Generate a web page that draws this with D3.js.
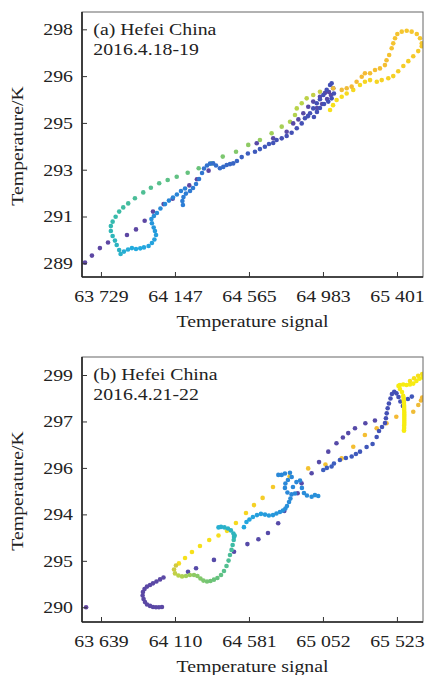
<!DOCTYPE html>
<html><head><meta charset="utf-8">
<script src="https://cdn.jsdelivr.net/npm/d3@7"></script>
<style>body{margin:0;background:#fff}svg{display:block}</style>
</head><body>
<script>
// ---------- tick values and labels ----------
const xTicksA = [63729, 64147, 64565, 64983, 65401];
const xLabelsA = ["63 729", "64 147", "64 565", "64 983", "65 401"];
const yTicksA = [289, 291, 293, 295, 297, 299];
const yLabelsA = ["289", "291", "293", "295", "296", "298"];
const xTicksB = [63639, 64110, 64581, 65052, 65523];
const xLabelsB = ["63 639", "64 110", "64 581", "65 052", "65 523"];
const yTicksB = [289, 291, 293, 295, 297, 299];
const yLabelsB = ["290", "295", "294", "296", "297", "299"];
const titlesA = ["(a) Hefei China", "2016.4.18-19"];
const titlesB = ["(b) Hefei China", "2016.4.21-22"];
const xTitle = "Temperature signal";
const yTitle = "Temperature/K";

// time-of-day colour stops (0 = start, 1 = end)
const colorStops = [0, 0.12, 0.25, 0.37, 0.5, 0.62, 0.75, 0.87, 1];
const colorRange = ["#62459f", "#4450b5", "#2c7dd5", "#22aae0", "#33b9ae", "#6ac37a", "#b8d34a", "#f4ba35", "#f7ec12"];

// ---------- panel (a) data: [signal, K, time] ----------
const aPurple = [[63639,289.03,.02],[63678,289.33,.02],[63723,289.65,.02],[63769,289.89,.02],[63876,290.21,.02],[63927,290.45,.02],[63976,290.82,.02],[64023,291.21,.02],[64083,291.53,.02],[64134,291.76,.02],[64228,292.33,.02],[64271,292.59,.02],[64337,292.96,.02]];
const aPurple2 = [[64609,294.13,.04],[64702,294.34,.04],[64778,294.62,.04],[64815,294.98,.04],[64844,295.15,.04],[64872,295.41,.04],[64900,295.69,.04],[64928,295.91,.04],[64966,296.12,.04],[64994,296.28,.04],[65017,296.32,.04],[65028,296.19,.04],[65006,296.02,.04],[64978,295.81,.04],[64949,295.64,.04]];
const aDarkBlue = [[64721,294.27,.12],[64750,294.34,.12],[64778,294.44,.12],[64806,294.58,.12],[64835,294.77,.12],[64863,294.98,.12],[64881,295.20,.12],[64898,295.29,.12],[64910,295.41,.12],[64928,295.62,.12],[64948,295.84,.12],[64966,296.01,.12],[64985,296.19,.12],[65004,296.41,.12],[65023,296.62,.12],[65032,296.69,.12],[65041,296.48,.12],[65045,296.26,.12],[65032,296.05,.12],[65013,295.91,.12],[64989,295.81,.12],[64966,295.64,.12],[64949,295.47,.12],[64932,295.25,.12]];
const aBlueRise = [[64192,291.49,.25],[64189,291.66,.25],[64195,291.83,.25],[64209,291.98,.25],[64232,292.09,.24],[64249,292.22,.24],[64266,292.39,.24],[64283,292.60,.23],[64300,292.86,.23],[64311,293.05,.22],[64328,293.18,.22],[64345,293.26,.22],[64363,293.27,.21],[64379,293.18,.21],[64401,293.06,.20],[64420,293.12,.20],[64439,293.20,.19],[64458,293.24,.19],[64476,293.27,.18],[64497,293.37,.18],[64524,293.54,.17],[64559,293.69,.16],[64599,293.77,.15],[64627,293.88,.15],[64655,293.98,.14],[64678,294.10,.14],[64702,294.14,.13]];
const aLightLoop = [[63859,289.50,.40],[63882,289.59,.39],[63904,289.65,.38],[63927,289.61,.37],[63951,289.64,.37],[63972,289.68,.36],[63998,289.74,.35],[64017,289.87,.35],[64031,290.02,.34],[64040,290.21,.34],[64034,290.38,.33],[64027,290.53,.32],[64017,290.71,.32],[64014,290.89,.31],[64028,291.02,.30],[64045,291.15,.30],[64065,291.34,.29],[64091,291.53,.28],[64113,291.68,.28],[64136,291.81,.27],[64158,291.94,.27],[64181,292.09,.26],[64204,292.20,.26]];
const aUpper = [[64966,296.33,.78],[64928,296.19,.77],[64891,296.05,.76],[64863,295.84,.75],[64835,295.62,.75],[64825,295.34,.74],[64797,295.05,.73],[64750,294.84,.72],[64693,294.56,.71],[64627,294.27,.69],[64561,294.06,.68],[64492,293.77,.66],[64417,293.56,.65],[64354,293.27,.64],[64281,293.06,.62],[64219,292.87,.61],[64157,292.70,.60],[64106,292.56,.59],[64058,292.42,.58],[64011,292.23,.57],[63968,292.03,.56],[63921,291.78,.55],[63883,291.56,.54],[63855,291.39,.53],[63832,291.21,.52],[63812,290.99,.51],[63795,290.78,.50],[63785,290.59,.49],[63785,290.38,.48],[63795,290.17,.47],[63808,289.97,.46],[63818,289.78,.45],[63832,289.57,.44],[63840,289.40,.43]];
const aYellowUp = [[65041,296.48,.86],[65089,296.41,.86],[65117,296.48,.86],[65145,296.55,.87],[65173,296.76,.87],[65202,296.97,.87],[65220,297.12,.87],[65249,297.12,.88],[65277,297.26,.88],[65305,297.33,.88],[65333,297.47,.88],[65342,297.68,.88],[65357,297.90,.89],[65371,298.19,.89],[65380,298.40,.89],[65390,298.62,.89],[65403,298.80,.89],[65428,298.90,.90],[65456,298.94,.90],[65484,298.90,.90],[65513,298.80,.90],[65531,298.62,.90],[65541,298.40,.90]];
const aYellowDown = [[65541,298.28,.91],[65521,298.07,.91],[65493,297.85,.91],[65465,297.64,.92],[65437,297.43,.92],[65408,297.21,.92],[65380,297.00,.93],[65352,296.91,.93],[65315,296.83,.93],[65287,296.76,.94],[65249,296.83,.94],[65220,296.76,.94],[65192,296.62,.95],[65154,296.41,.95],[65117,296.26,.95],[65089,296.12,.96],[65060,295.98,.96],[65040,295.76,.97],[65023,295.55,.97]];

// ---------- panel (b) data: [signal, K, time] ----------
const bPurpleStart = [[63544,289.00,0]];
const bPurpleHook = [[64027,289.01,.03],[64008,289.00,.03],[63989,289.00,.03],[63970,289.01,.03],[63951,289.06,.03],[63932,289.12,.03],[63919,289.23,.03],[63910,289.36,.03],[63904,289.51,.03],[63906,289.66,.03],[63916,289.79,.03],[63932,289.89,.03],[63951,289.96,.03],[63970,290.03,.03],[63992,290.11,.03],[64015,290.20,.03],[64037,290.28,.03]];
const bPurpleLine = [[64193,290.53,.05],[64244,290.68,.05],[64358,291.04,.05],[64486,291.39,.05],[64571,291.72,.05],[64641,291.93,.05],[64702,292.20,.05],[64767,292.62,.05],[64806,293.15,.05],[64891,293.91,.05],[64916,294.34,.05],[64980,294.77,.05],[65027,295.25,.05],[65086,295.70,.05],[65138,296.06,.05],[65179,296.31,.05],[65213,296.50,.05],[65256,296.71,.05],[65322,296.92,.05],[65383,297.04,.05]];
const bBlueLine = [[65054,294.91,.16],[65077,295.00,.16],[65107,295.06,.16],[65122,295.19,.16],[65160,295.34,.15],[65198,295.43,.15],[65235,295.49,.15],[65262,295.60,.15],[65288,295.70,.14],[65330,295.90,.14],[65368,296.03,.14],[65394,296.33,.13],[65409,296.59,.13],[65428,296.76,.13],[65447,296.93,.12],[65453,297.14,.12],[65458,297.35,.12],[65464,297.57,.12],[65472,297.77,.12],[65482,297.99,.12],[65491,298.18,.12],[65506,298.28,.12],[65520,298.21,.12],[65533,298.05,.12],[65545,297.86,.12],[65561,297.67,.12],[65593,297.97,.14],[65618,298.07,.14]];
const bYellowLine = [[65684,298.03,.87],[65676,297.90,.87],[65659,297.71,.86],[65627,297.42,.86],[65519,297.20,.87],[65457,296.92,.87],[65394,296.71,.87],[65319,296.42,.88],[65245,295.91,.88],[65171,295.41,.88],[65068,295.15,.89],[64958,294.98,.89],[64840,294.64,.90],[64734,294.18,.91],[64668,293.71,.92],[64613,293.40,.93],[64562,293.06,.94],[64498,292.63,.95],[64441,292.29,.96],[64387,292.09,.96],[64328,291.90,.97],[64269,291.64,.97],[64218,291.38,.97],[64174,291.12,.97],[64135,290.89,.96]];
const bGreen = [[64116,290.80,.80],[64104,290.63,.79],[64110,290.46,.77],[64132,290.37,.75],[64155,290.33,.73],[64180,290.35,.71],[64205,290.39,.70],[64231,290.39,.68],[64253,290.35,.67],[64272,290.24,.66],[64291,290.15,.65],[64314,290.11,.64],[64336,290.13,.63],[64358,290.19,.62],[64380,290.26,.61],[64403,290.39,.60],[64422,290.56,.58],[64438,290.78,.57],[64451,291.01,.56],[64460,291.25,.55],[64470,291.47,.54],[64477,291.68,.52],[64484,291.90,.51],[64490,292.09,.49]];
const bCyanHook = [[64486,292.03,.47],[64482,292.18,.46],[64466,292.31,.45],[64447,292.39,.44],[64425,292.44,.43],[64403,292.46,.42],[64387,292.44,.41]];
const bLightBlue = [[64549,292.45,.36],[64565,292.67,.36],[64584,292.78,.35],[64606,292.89,.35],[64632,292.97,.34],[64657,293.02,.34],[64683,292.99,.33],[64708,292.95,.33],[64734,292.97,.32],[64756,293.04,.32],[64778,293.10,.31],[64797,293.17,.31],[64813,293.25,.30],[64823,293.36,.30],[64836,293.53,.29],[64845,293.68,.29]];
const bBlueCluster = [[64852,293.86,.28],[64826,293.94,.28],[64810,294.14,.28],[64813,294.33,.28],[64829,294.48,.28],[64853,294.61,.28],[64842,294.79,.28],[64810,294.76,.28],[64789,294.70,.28],[64768,294.70,.28],[64874,293.90,.28],[64861,294.18,.28],[64883,294.39,.28],[64906,294.46,.28],[64918,294.14,.28],[64931,293.92,.29],[64950,293.81,.29],[64980,293.76,.30],[65001,293.83,.30],[65022,293.79,.30]];
const bLemon = [[65533,298.53,1],[65542,298.40,1],[65555,298.27,1],[65563,298.10,1],[65566,298.01,1],[65566,297.93,1],[65568,297.84,1],[65568,297.75,1],[65569,297.67,1],[65569,297.58,1],[65569,297.50,1],[65570,297.41,1],[65570,297.32,1],[65570,297.24,1],[65570,297.15,1],[65570,297.06,1],[65570,296.98,1],[65570,296.89,1],[65569,296.81,1],[65569,296.72,1],[65568,296.63,1],[65568,296.60,1],[65542,298.57,1],[65563,298.59,1],[65584,298.57,1],[65606,298.59,1],[65627,298.63,1],[65647,298.74,1],[65666,298.84,1],[65685,298.89,1],[65692,298.94,1],[65606,298.74,.97],[65632,298.86,.97],[65658,298.97,.97],[65684,299.04,.97]];

// ---------- drawing ----------
const W = 428, H = 675;
const FONT = "'Liberation Serif','Times New Roman',serif";
const FS = 16.5, STRETCH = 1.2;
const svg = d3.select("body").append("svg").attr("width", W).attr("height", H);
const color = d3.scaleLinear().domain(colorStops).range(colorRange).interpolate(d3.interpolateRgb);

function panel(o) {
  const left = 82, right = 423;
  const x = d3.scaleLinear().domain(o.xDomain).range([left, right]);
  const y = d3.scaleLinear().domain(o.yDomain).range([o.bottom, o.top]);
  const g = svg.append("g");
  const clipId = "clip" + o.id;
  g.append("clipPath").attr("id", clipId).append("rect")
    .attr("x", left).attr("y", o.top).attr("width", right - left).attr("height", o.bottom - o.top);
  const pts = g.append("g").attr("clip-path", `url(#${clipId})`);
  o.series.forEach(s => {
    pts.selectAll(null).data(s).enter().append("circle")
      .attr("cx", d => x(d[0])).attr("cy", d => y(d[1])).attr("r", 2.3)
      .attr("fill", d => color(d[2]));
  });
  // frame
  g.append("rect").attr("x", left).attr("y", o.top).attr("width", right - left).attr("height", o.bottom - o.top)
    .attr("fill", "none").attr("stroke", "#666").attr("stroke-width", 1);
  g.append("line").attr("x1", left).attr("x2", left).attr("y1", o.top).attr("y2", o.bottom).attr("stroke", "#222").attr("stroke-width", 1.6);
  g.append("line").attr("x1", left).attr("x2", right).attr("y1", o.bottom).attr("y2", o.bottom).attr("stroke", "#222").attr("stroke-width", 1.6);

  const xa = g.append("g").attr("transform", `translate(0,${o.bottom})`)
    .call(d3.axisBottom(x).tickValues(o.xTicks).tickFormat((d, i) => o.xLabels[i]).tickSizeInner(-5).tickSizeOuter(0).tickPadding(12.8));
  const ya = g.append("g").attr("transform", `translate(${left},0)`)
    .call(d3.axisLeft(y).tickValues(o.yTicks).tickFormat((d, i) => o.yLabels[i]).tickSizeInner(-5).tickSizeOuter(0).tickPadding(7.5));
  [xa, ya].forEach(a => {
    a.select(".domain").remove();
    a.selectAll("line").attr("stroke", "#333").attr("stroke-width", 1);
    a.selectAll("text").attr("font-family", FONT).attr("font-size", FS).attr("fill", "#222")
      .attr("transform", `scale(${STRETCH},1)`);
  });

  const txt = (t, tx, ty, anchor, rot) => g.append("text")
    .attr("transform", `translate(${tx},${ty})${rot ? " rotate(-90)" : ""} scale(${STRETCH},1)`)
    .attr("text-anchor", anchor).attr("font-family", FONT).attr("font-size", FS).attr("fill", "#222").text(t);
  txt(o.titles[0], 93.3, o.top + 22.5, "start");
  txt(o.titles[1], 93.3, o.top + 43, "start");
  txt(xTitle, (left + right) / 2, o.bottom + 50, "middle");
  txt(yTitle, 23, (o.top + o.bottom) / 2 + 1.5, "middle", true);
}

panel({
  id: "a", top: 12, bottom: 277,
  xDomain: [63622, 65548], yDomain: [288.415, 299.74],
  xTicks: xTicksA, xLabels: xLabelsA, yTicks: yTicksA, yLabels: yLabelsA, titles: titlesA,
  series: [aPurple, aUpper, aLightLoop, aBlueRise, aPurple2, aDarkBlue, aYellowDown, aYellowUp]
});
panel({
  id: "b", top: 357, bottom: 622,
  xDomain: [63518, 65689], yDomain: [288.367, 299.775],
  xTicks: xTicksB, xLabels: xLabelsB, yTicks: yTicksB, yLabels: yLabelsB, titles: titlesB,
  series: [bPurpleStart, bPurpleHook, bPurpleLine, bYellowLine, bBlueLine, bGreen, bCyanHook, bLightBlue, bBlueCluster, bLemon]
});
</script>
</body></html>
